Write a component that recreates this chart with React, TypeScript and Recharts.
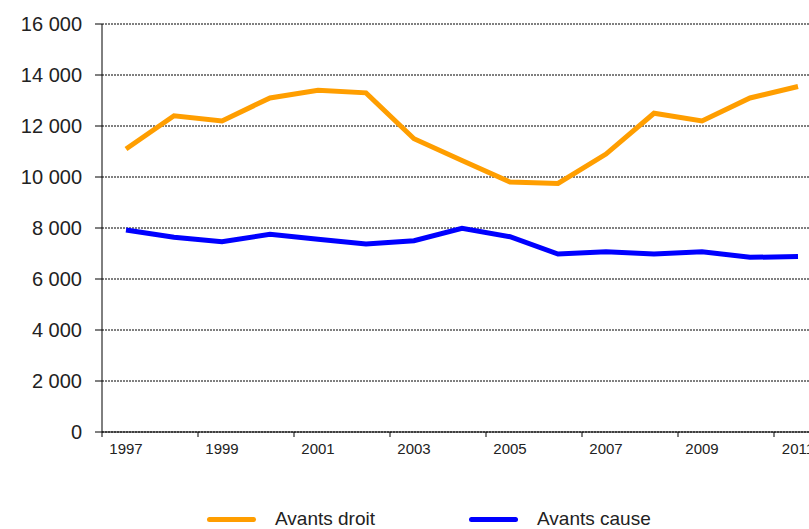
import { LineChart, Line, XAxis, YAxis, CartesianGrid, Legend } from 'recharts';

const years = [1997, 1998, 1999, 2000, 2001, 2002, 2003, 2004, 2005, 2006, 2007, 2008, 2009, 2010, 2011];
const avantsDroit = [11100, 12400, 12200, 13100, 13400, 13300, 11500, 10650, 9800, 9750, 10900, 12500, 12200, 13100, 13550];
const avantsCause = [7920, 7640, 7460, 7750, 7560, 7370, 7500, 7990, 7660, 6980, 7070, 6980, 7070, 6850, 6880];
const seriesNames = ['Avants droit', 'Avants cause'];
const yTicks = [0, 2000, 4000, 6000, 8000, 10000, 12000, 14000, 16000];
const xTicks = [1997, 1999, 2001, 2003, 2005, 2007, 2009, 2011];

const data = years.map((year, i) => ({
  year,
  droit: avantsDroit[i],
  cause: avantsCause[i],
}));

const FONT = '"Liberation Sans", Arial, sans-serif';
const CHART_W = 830;
const CHART_H = 529;
const MARGIN = { top: 24, right: 8, left: 0, bottom: 0 };
const Y_AXIS_W = 102;
// half a year-band in px, ticks sit on the band edges
const HALF_BAND = (CHART_W - MARGIN.right - Y_AXIS_W) / years.length / 2;
const X_TICK_SIZE = 5;
const X_TICK_MARGIN = 6;

const formatThousands = (v: number) => String(v).replace(/\B(?=(\d{3})+(?!\d))/g, ' ');

function YearTick(props: any) {
  const { x, y, payload } = props;
  const axisY = y - X_TICK_SIZE - X_TICK_MARGIN;
  return (
    <g>
      <line x1={x - HALF_BAND} x2={x - HALF_BAND} y1={axisY} y2={axisY + X_TICK_SIZE} stroke="#000" strokeWidth={1} />
      <text x={x} y={y} dy="0.71em" textAnchor="middle" fill="#222" fontSize={15} fontFamily={FONT}>
        {payload.value}
      </text>
    </g>
  );
}

function ChartLegend(props: any) {
  const items = [...(props.payload || [])].sort(
    (a: any, b: any) => seriesNames.indexOf(a.value) - seriesNames.indexOf(b.value)
  );
  return (
    <div style={{ display: 'flex', alignItems: 'center', height: 20, paddingLeft: 207, fontFamily: FONT }}>
      {items.map((entry: any) => (
        <div key={entry.value} style={{ display: 'flex', alignItems: 'center', width: 262 }}>
          <span style={{ display: 'inline-block', width: 49, height: 5, borderRadius: 3, background: entry.color, marginRight: 19 }} />
          <span style={{ fontSize: 19, color: '#222' }}>{entry.value}</span>
        </div>
      ))}
    </div>
  );
}

export default function App() {
  return (
    <div style={{ position: 'fixed', left: 0, top: 0, width: 809, height: 529, overflow: 'hidden', background: '#fff' }}>
      <LineChart width={CHART_W} height={CHART_H} data={data} margin={MARGIN}>
        <CartesianGrid vertical={false} stroke="#000" strokeDasharray="2 1" />
        <XAxis
          dataKey="year"
          type="number"
          domain={[1996.5, 2011.5]}
          ticks={xTicks}
          interval={0}
          tickLine={false}
          tickSize={X_TICK_SIZE}
          tickMargin={X_TICK_MARGIN}
          tick={<YearTick />}
          axisLine={{ stroke: '#000' }}
          height={77}
        />
        <YAxis
          domain={[0, 16000]}
          ticks={yTicks}
          interval={0}
          width={Y_AXIS_W}
          tickSize={7}
          tickMargin={13}
          tickFormatter={formatThousands}
          tick={{ fill: '#222', fontSize: 20, fontFamily: FONT }}
          tickLine={{ stroke: '#000' }}
          axisLine={{ stroke: '#000' }}
        />
        <Legend verticalAlign="bottom" content={<ChartLegend />} wrapperStyle={{ height: 20 }} />
        <Line type="linear" dataKey="droit" name={seriesNames[0]} stroke="#FF9E00" strokeWidth={5} dot={false} isAnimationActive={false} />
        <Line type="linear" dataKey="cause" name={seriesNames[1]} stroke="#0000FF" strokeWidth={5} dot={false} isAnimationActive={false} />
      </LineChart>
    </div>
  );
}
